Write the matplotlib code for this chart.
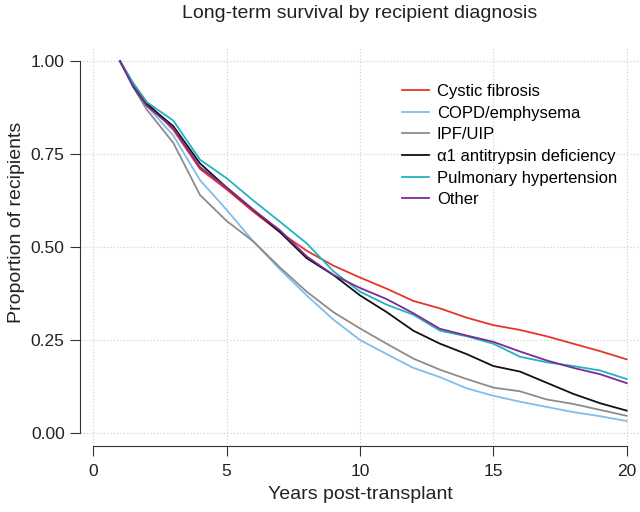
import numpy as np
import matplotlib
matplotlib.use("Agg")
import matplotlib.pyplot as plt

plt.rcParams['font.family'] = ['Liberation Sans', 'DejaVu Sans']

# survival, years post-transplant
years = [1, 1.5, 2, 3, 4, 5, 6, 7, 8, 9, 10, 11, 12, 13, 14, 15, 16, 17, 18, 19, 20]

cystic = [1.0, 0.94, 0.89, 0.815, 0.71, 0.655, 0.595, 0.54, 0.49, 0.45, 0.418,
          0.388, 0.355, 0.335, 0.31, 0.29, 0.277, 0.26, 0.24, 0.22, 0.198]
copd = [1.0, 0.935, 0.88, 0.80, 0.68, 0.60, 0.515, 0.44, 0.37, 0.305, 0.25,
        0.212, 0.175, 0.15, 0.12, 0.10, 0.084, 0.07, 0.056, 0.045, 0.032]
ipf = [1.0, 0.93, 0.87, 0.78, 0.64, 0.57, 0.515, 0.445, 0.38, 0.325, 0.281,
       0.24, 0.20, 0.17, 0.145, 0.122, 0.112, 0.09, 0.078, 0.062, 0.046]
alpha1 = [1.0, 0.935, 0.885, 0.825, 0.725, 0.66, 0.60, 0.54, 0.47, 0.425, 0.37,
          0.325, 0.275, 0.24, 0.212, 0.18, 0.165, 0.135, 0.105, 0.08, 0.06]
pulm = [1.0, 0.94, 0.89, 0.84, 0.735, 0.685, 0.625, 0.568, 0.51, 0.435, 0.38,
        0.345, 0.318, 0.275, 0.26, 0.24, 0.205, 0.19, 0.18, 0.168, 0.145]
other = [1.0, 0.93, 0.88, 0.82, 0.715, 0.66, 0.60, 0.545, 0.475, 0.425, 0.39,
         0.36, 0.322, 0.28, 0.262, 0.245, 0.219, 0.195, 0.175, 0.158, 0.134]

labels = ["Cystic fibrosis", "COPD/emphysema", "IPF/UIP",
          "\u03b11 antitrypsin deficiency", "Pulmonary hypertension", "Other"]
colors = ["#e6342a", "#80bdec", "#8c8c8c", "#111111", "#22b3bf", "#7b2c91"]

fig = plt.figure(figsize=(6.4, 5.12), dpi=100)
ax = fig.add_axes([0.125, 0.129, 0.875, 0.777])

for ys, lab, c in zip([cystic, copd, ipf, alpha1, pulm, other], labels, colors):
    ax.plot(years, ys, color=c, lw=1.3, label=lab)

ax.set_xlim(-0.5, 20.5)
ax.set_ylim(-0.035, 1.035)
ax.set_xticks([0, 5, 10, 15, 20])
ax.set_yticks([0, 0.25, 0.5, 0.75, 1.0])
ax.set_yticklabels(["0.00", "0.25", "0.50", "0.75", "1.00"])
ax.grid(True, color="#cccccc", linestyle=(0, (1, 2)), lw=0.8)
ax.set_axisbelow(True)

for s in ["top", "right"]:
    ax.spines[s].set_visible(False)
ax.spines["left"].set_bounds(0, 1)
ax.spines["bottom"].set_bounds(0, 20)
ax.spines["left"].set_color("#333333")
ax.spines["bottom"].set_color("#333333")
ax.tick_params(labelsize=12.5, length=7, color="#333333", labelcolor="#222222")
ax.tick_params(axis="y", pad=4)
ax.tick_params(axis="x", pad=6)

ax.set_xlabel("Years post-transplant", fontsize=14, color="#222222", va="center")
ax.set_ylabel("Proportion of recipients", fontsize=14, color="#222222", va="center")
ax.xaxis.set_label_coords(0.5, -0.121)
ax.yaxis.set_label_coords(-0.114, 0.561)
fig.text(0.5625, 1 - 14 / 512, "Long-term survival by recipient diagnosis",
         fontsize=14, color="#222222", ha="center", va="center")

ax.legend(loc="upper left", bbox_to_anchor=(0.628, 0.836),
          bbox_transform=fig.transFigure, frameon=False, fontsize=12,
          handlelength=1.6, handletextpad=0.5, labelspacing=0.4,
          borderpad=0, borderaxespad=0)

fig.savefig("out.png", dpi=100)
